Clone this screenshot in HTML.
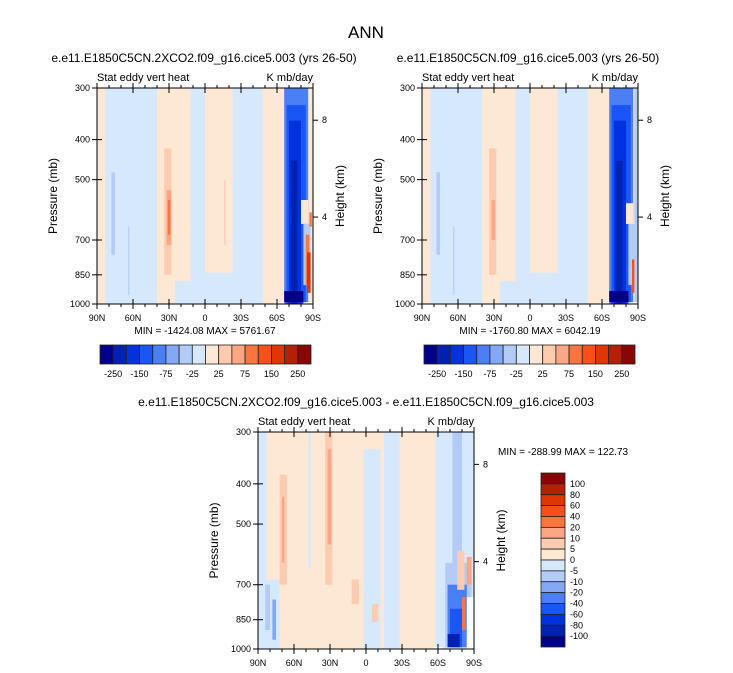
<!DOCTYPE html>
<html><head><meta charset="utf-8"><style>
body{margin:0;background:#fff;}
svg{display:block;font-family:"Liberation Sans",sans-serif;}
</style></head><body>
<svg id="s" width="733" height="673">
<text x="366" y="38" font-size="17" text-anchor="middle">ANN</text>
</svg>
<script>
const colors=["#00008a","#0022b0","#0033dd","#1a55f5","#4a7ff5","#84a8f5","#b3ccf7","#d6e8fb","#fde8d6","#fccbb0","#fba783","#fb7540","#fb4f1a","#e03505","#b32008","#8a0505"];
const hLabels=["-250","-150","-75","-25","25","75","150","250"];
const vLabels=["100","80","60","40","20","10","5","0","-5","-10","-20","-40","-60","-80","-100"];
const pTicks=[300,400,500,700,850,1000];
const latTicks=[90,60,30,0,-30,-60,-90];
const latNames=["90N","60N","30N","0","30S","60S","90S"];
const zTicks=[8,4];
const zPres=[359,616];
// regions: [lat1, lat2, pTop, pBottom, colorLevel] (-1 = missing/white)
const field1=[
[90,83,300,1000,8],[78,75,480,760,6],[64,63,650,950,6],[40,12,300,1000,8],[25,12,880,1000,7],
[34,28,420,850,9],[32,28,530,720,10],[31,29,560,680,11],[0,-23,300,840,8],[-16,-17,500,720,9],
[-48,-90,300,1000,8],[-66,-86,300,1000,4],[-68,-84,330,1000,3],[-70,-80,360,1000,2],
[-72,-77,450,1000,1],[-66,-82,930,990,0],[-80,-86,560,640,8],[-82,-88,640,900,6],[-84,-87,680,900,11],
[-85,-88,750,940,13],[-87,-89,600,650,11],[-58,-66,990,1000,-1],[-82,-90,990,1000,-1]];
const field2=[
[90,83,300,1000,8],[78,75,480,760,6],[64,63,650,950,6],[40,12,300,1000,8],[25,12,880,1000,7],
[34,28,420,850,9],[32,29,560,700,10],[0,-23,300,840,8],
[-48,-90,300,1000,8],[-66,-86,300,1000,4],[-68,-84,330,1000,3],[-70,-80,360,1000,2],
[-72,-77,450,1000,1],[-66,-82,930,990,0],[-80,-86,570,640,8],[-82,-88,640,900,6],[-85,-87,780,940,12],
[-87,-90,300,1000,6],[-58,-66,990,1000,-1],[-82,-90,990,1000,-1]];
const field3=[
[83,-90,300,1000,8],[48,46,300,640,7],[2,-12,330,1000,7],[-15,-28,300,1000,7],
[-58,-90,300,1000,7],[-72,-80,300,700,6],[88,72,680,1000,7],[84,80,700,900,6],[78,75,760,950,5],[72,66,380,700,9],
[70,68,430,620,10],[34,28,300,700,9],[32,29,330,560,10],[12,6,680,780,9],[-5,-10,780,860,9],
[-66,-88,620,990,6],[-68,-84,700,990,4],[-70,-80,800,990,3],[-68,-78,920,990,1],[-76,-82,580,720,9],[-84,-88,600,700,10],
[-80,-83,750,900,11],[-86,-88,780,880,13],[-56,-64,990,1000,-1],[-84,-90,750,1000,-1]];
const ns="http://www.w3.org/2000/svg";
const s=document.getElementById('s');
function el(t,a,p){const e=document.createElementNS(ns,t);for(const k in a)e.setAttribute(k,a[k]);(p||s).appendChild(e);return e;}
function txt(x,y,str,size,anchor,p){const e=el('text',{x:x,y:y,'font-size':size,'text-anchor':anchor||'middle'},p);e.textContent=str;return e;}
let cid=0;
function panel(x0,y0,W,H,field,name){
  const g=el('g',{});
  
  
  const xs=lat=>x0+(90-lat)/180*W;
  const ys=p=>y0+Math.log(p/300)/Math.log(1000/300)*H;
  cid++;
  const cp=el('clipPath',{id:'c'+cid},g);el('rect',{x:x0,y:y0,width:W,height:H},cp);
  const fg=el('g',{'clip-path':'url(#c'+cid+')'},g);
  const bg=el('rect',{x:x0,y:y0,width:W,height:H,fill:colors[7]},fg);
  
  
  field.forEach(r=>{
    const a=xs(r[0]),b=xs(r[1]),c=ys(r[2]),d=ys(r[3]);
    const e=el('rect',{x:Math.min(a,b),y:c,width:Math.abs(b-a),height:d-c,fill:r[4]<0?'#fff':colors[r[4]]},fg);
    
    
  });
  el('rect',{x:x0,y:y0,width:W,height:H,fill:'none',stroke:'#000','stroke-width':1},g);
  pTicks.forEach(p=>{const y=ys(p);el('line',{x1:x0-5,x2:x0,y1:y,y2:y,stroke:'#000'},g);el('line',{x1:x0,x2:x0+5,y1:y,y2:y,stroke:'#000'},g);
    const t=txt(x0-7,y+3,String(p),9,'end',g);});
  latTicks.forEach((l,i)=>{const x=xs(l);el('line',{x1:x,x2:x,y1:y0+H,y2:y0+H+5,stroke:'#000'},g);el('line',{x1:x,x2:x,y1:y0,y2:y0-5,stroke:'#000'},g);
    el('line',{x1:x,x2:x,y1:y0+H,y2:y0+H-5,stroke:'#000'},g);el('line',{x1:x,x2:x,y1:y0,y2:y0+5,stroke:'#000'},g);
    const t=txt(x,y0+H+17,latNames[i],9,'middle',g);});
  for(let l=80;l>-90;l-=10){if(l%30===0)continue;const x=xs(l);el('line',{x1:x,x2:x,y1:y0+H,y2:y0+H+3,stroke:'#000'},g);el('line',{x1:x,x2:x,y1:y0,y2:y0-3,stroke:'#000'},g);}
  zTicks.forEach((z,i)=>{const y=ys(zPres[i]);el('line',{x1:x0+W,x2:x0+W+5,y1:y,y2:y,stroke:'#000'},g);
    const t=txt(x0+W+9,y+3,String(z),9,'start',g);});
  const yl=txt(0,0,'Pressure (mb)',12,'middle',g);yl.setAttribute('transform','translate('+(x0-40)+','+(y0+H/2)+') rotate(-90)');
  
  const hl=txt(0,0,'Height (km)',12,'middle',g);hl.setAttribute('transform','translate('+(x0+W+31)+','+(y0+H/2)+') rotate(-90)');
  
  const l1=txt(x0,y0-7,'Stat eddy vert heat',11,'start',g);
  const l2=txt(x0+W,y0-7,'K mb/day',11,'end',g);
}
function hbar(x0,y0,W,H,name){
  const g=el('g',{});
  
  
  const bw=W/colors.length;
  colors.forEach((c,i)=>{const r=el('rect',{x:x0+i*bw,y:y0,width:bw,height:H,fill:c,stroke:'#222','stroke-width':0.8},g);
    });
  hLabels.forEach((l,i)=>{const t=txt(x0+(2*i+1)*bw,y0+H+13,l,9,'middle',g);});
}
function vbar(x0,y0,W,H,name){
  const g=el('g',{});
  
  
  const bh=H/colors.length;
  colors.slice().reverse().forEach((c,i)=>{const r=el('rect',{x:x0,y:y0+i*bh,width:W,height:bh,fill:c,stroke:'#222','stroke-width':0.8},g);
    });
  vLabels.forEach((l,i)=>{const t=txt(x0+W+5,y0+(i+1)*bh+3,l,9,'start',g);});
}
let t;
t=txt(204,62,'e.e11.E1850C5CN.2XCO2.f09_g16.cice5.003 (yrs 26-50)',12);
t=txt(528,62,'e.e11.E1850C5CN.f09_g16.cice5.003 (yrs 26-50)',12);
t=txt(366,406,'e.e11.E1850C5CN.2XCO2.f09_g16.cice5.003 - e.e11.E1850C5CN.f09_g16.cice5.003',12);
panel(97,88,216,216,field1,'panel-2xco2');
panel(422,88,216,216,field2,'panel-control');
panel(258,432,216,217,field3,'panel-difference');
t=txt(205,334,'MIN = -1424.08  MAX = 5761.67',10);
t=txt(530,334,'MIN = -1760.80  MAX = 6042.19',10);
t=txt(498,455,'MIN = -288.99  MAX = 122.73',10,'start');
hbar(100,345,211,19,'colorbar-panel1');
hbar(424,345,211,19,'colorbar-panel2');
vbar(541,473,24,174,'colorbar-diff');
</script>
</body></html>
